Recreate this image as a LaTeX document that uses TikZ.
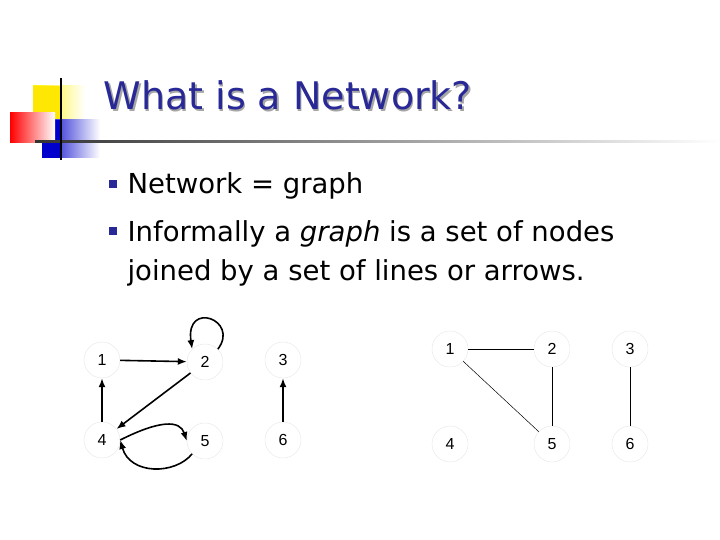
\documentclass[tikz,border=0pt]{standalone}
\usepackage{fontspec}
\setmainfont{DejaVu Sans}
\newfontfamily\lab{Liberation Sans}
\usetikzlibrary{arrows.meta}
\definecolor{navy}{RGB}{40,40,150}
\begin{document}
\begin{tikzpicture}[x=1pt,y=-1pt,
  vx/.style={circle,draw=black!10,minimum size=36pt,inner sep=0pt,font=\lab\fontsize{16}{16}\selectfont},
  arr/.style={-{Latex[length=9pt,width=7pt]},line width=1.6pt},
  ln/.style={line width=0.8pt},
  bul/.style={fill=navy,minimum size=8pt,inner sep=0pt}]
\useasboundingbox (0,0) rectangle (720,540);
% decoration
\shade[left color=yellow!90!orange, right color=white] (33,86) rectangle (85,125);
\fill[yellow!90!orange] (33,86) rectangle (60,125);
\shade[left color=blue!80!black, right color=white] (42,120) rectangle (100,158);
\fill[blue!80!black] (42,120) rectangle (62,158);
\shade[left color=red, right color=white] (10,113) rectangle (55,143);
\shade[left color=black!80, right color=white] (35,141) rectangle (720,143);
\draw[line width=1.5pt] (61,78) -- (61,160);
\node[anchor=base west,text=black!35,font=\fontsize{38}{38}\selectfont] (ts) at (101.5,111.5) {What is a Network?};
\node[anchor=base west,text=navy,font=\fontsize{38}{38}\selectfont] (t) at (100,110) {What is a Network?};
% bullets
\node[bul] (b1) at (113,184) {};
\node[bul] (b2) at (113,231) {};
\node[anchor=base west,font=\fontsize{27.5}{27.5}\selectfont] (l1) at (124,194) {Network = graph};
\node[anchor=base west,font=\fontsize{27.5}{27.5}\selectfont] (l2) at (124,241) {Informally a \textit{graph} is a set of nodes};
\node[anchor=base west,font=\fontsize{27.5}{27.5}\selectfont] (l3) at (124,280) {joined by a set of lines or arrows.};
% left graph
\node[vx] (a1) at (102,360) {1};
\node[vx] (a2) at (205,362) {2};
\node[vx] (a3) at (283,360) {3};
\node[vx] (a4) at (102,440) {4};
\node[vx] (a5) at (205,441) {5};
\node[vx] (a6) at (283,440) {6};
\draw[arr] (a1) -- (a2);
\draw[arr] (a4) -- (a1);
\draw[arr] (a2) -- (a4);
\draw[arr] (a6) -- (a3);
\draw[arr] (a4.east) .. controls (160,420) and (180,420) .. (a5.west);
\draw[arr] (a5.south west) .. controls (175,475) and (130,475) .. (a4.east);
\draw[arr] (a2.north east) .. controls (240,320) and (185,300) .. (a2.north west);
% right graph
\node[vx] (c1) at (450,349) {1};
\node[vx] (c2) at (552,349) {2};
\node[vx] (c3) at (630,349) {3};
\node[vx] (c4) at (450,444) {4};
\node[vx] (c5) at (552,444) {5};
\node[vx] (c6) at (630,444) {6};
\draw[ln] (c1) -- (c2);
\draw[ln] (c2) -- (c5);
\draw[ln] (c3) -- (c6);
\draw[line width=0.5pt] (c1) -- (c5);
\end{tikzpicture}
\end{document}
